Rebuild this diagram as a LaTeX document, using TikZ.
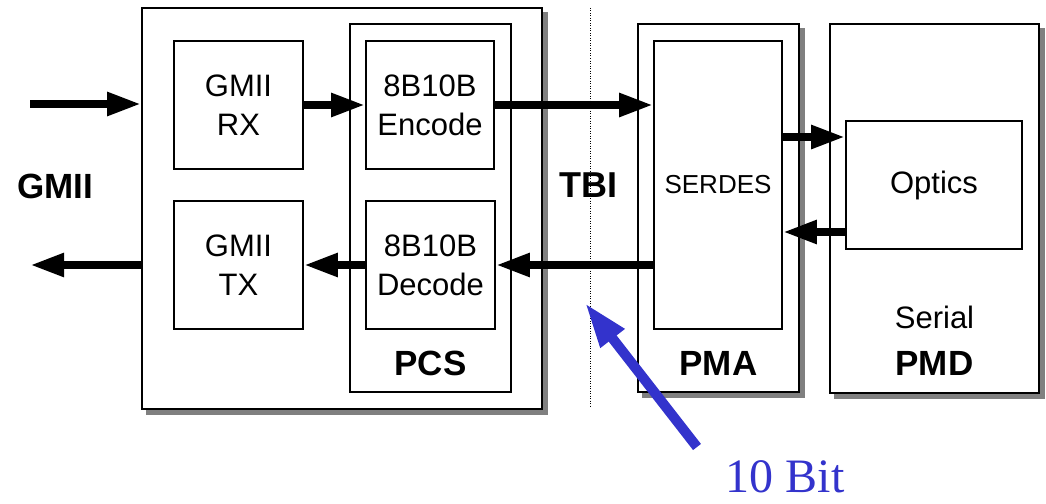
\documentclass[tikz,border=0pt]{standalone}
\usepackage{fontspec}
\setmainfont{Liberation Sans}
\newfontfamily\timesfont{Liberation Serif}
\usepackage{xcolor}
\usetikzlibrary{arrows.meta,backgrounds}
\definecolor{shadowgray}{RGB}{128,128,128}
\definecolor{bitblue}{RGB}{51,51,204}

\tikzset{
    blk/.style={draw,line width=1.6pt,fill=white,inner sep=0pt,align=center,
        font=\fontsize{31}{39}\selectfont},
    biglbl/.style={font=\fontsize{35}{40}\selectfont\bfseries},
    fatarrow/.style={line width=8pt,-{Triangle[length=34pt,width=22pt]}},
}
% gray shadow below right of a box
\newcommand{\boxshadow}[1]{%
    \fill[shadowgray] ([shift={(5pt,-5pt)}]#1.south west) rectangle ([shift={(5pt,-5pt)}]#1.north east);}

\begin{document}
\begin{tikzpicture}[x=1pt,y=-1pt]
    \useasboundingbox (0,0) rectangle (1046,503);

    % left part: GMII side and PCS
    \node[blk,minimum width=400pt,minimum height=401pt] (gmiibox) at (342,208.5) {};
    \node[blk,minimum width=161pt,minimum height=368pt] (pcs) at (430.5,208) {};
    \node[blk,minimum width=129pt,minimum height=128pt] (rx) at (238.5,105) {GMII\\RX};
    \node[blk,minimum width=129pt,minimum height=128pt] (tx) at (238.5,265) {GMII\\TX};
    \node[blk,minimum width=128pt,minimum height=128pt] (enc) at (430,105) {8B10B\\Encode};
    \node[blk,minimum width=129pt,minimum height=128pt] (dec) at (430.5,265) {8B10B\\Decode};
    \node[biglbl] (pcslbl) at ([yshift=29pt]pcs.south) {PCS};

    % right part: PMA and PMD
    \node[blk,minimum width=161pt,minimum height=368pt] (pma) at (718.5,208) {};
    \node[blk,minimum width=128pt,minimum height=288pt,font=\fontsize{26}{30}\selectfont] (serdes) at (718,185) {SERDES};
    \node[biglbl] (pmalbl) at ([yshift=29pt]pma.south) {PMA};
    \node[blk,minimum width=209pt,minimum height=369pt] (pmd) at (934.5,208.5) {};
    \node[blk,minimum width=176pt,minimum height=128pt] (optics) at (934,185) {Optics};
    \node[font=\fontsize{31}{36}\selectfont] (serlbl) at ([yshift=76pt]pmd.south) {Serial};
    \node[biglbl] (pmdlbl) at ([yshift=30pt]pmd.south) {PMD};

    \begin{scope}[on background layer]
        \boxshadow{gmiibox}
        \boxshadow{pma}
        \boxshadow{pmd}
    \end{scope}

    \node[biglbl] (gmiilbl) at (55,186) {GMII};
    \node[biglbl,font=\fontsize{36}{40}\selectfont\bfseries] (tbilbl) at (588,185) {TBI};

    \coordinate (gin) at (30,104);
    \coordinate (gout) at (30,265);
    \coordinate (tbitop) at (590,8);
    \coordinate (tbibot) at (590,408);
    \coordinate (bittail) at (697,447);
    \coordinate (bittip) at (585,303);

    % data paths
    \draw[fatarrow] (gin) -- (gmiibox.west |- gin);
    \draw[fatarrow] (rx.east) -- (enc.west);
    \draw[fatarrow] (enc.east) -- (serdes.west |- enc.east);
    \draw[fatarrow] ([yshift=48pt]serdes.east) -- ([yshift=48pt]optics.west);
    \draw[fatarrow] ([yshift=-47pt]optics.west) -- ([yshift=-47pt]serdes.east);
    \draw[fatarrow] (serdes.west |- dec.east) -- (dec.east);
    \draw[fatarrow] (dec.west) -- (tx.east);
    \draw[fatarrow] (gmiibox.west |- gout) -- (gout);

    \draw[line width=1pt,dash pattern=on 1pt off 1.5pt] (tbitop) -- (tbibot);

    % ten bit interface pointer
    \draw[bitblue,line width=10pt,-{Triangle[length=45pt,width=28pt]}] (bittail) -- (bittip);
    \node[bitblue,font=\timesfont\fontsize{48}{52}\selectfont] (bitlbl) at (785,477) {10 Bit};
\end{tikzpicture}
\end{document}
